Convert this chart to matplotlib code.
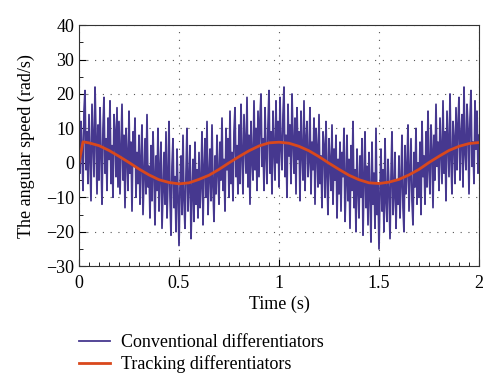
import numpy as np
import matplotlib
matplotlib.use("Agg")
import matplotlib.pyplot as plt
from matplotlib.ticker import MultipleLocator

# conventional differentiator output, sampled every 0.005 s from 0 to 2 s
conv_speed = [
    18, -3, 12, 4, -8, 15, 21, -2, 9, -6, 14, 2, -11, 17, 6, -4, 22, 8, -9, 11,
    -5, 16, 3, -12, 10, 19, -3, 7, -8, 13, 1, 18, -6, 5, -10, 14, 9, -4, 16, -7,
    12, -9, 4, 17, -5, 8, -13, 10, 2, -8, 15, -3, 6, -14, 9, -1, 13, -10, 3, -6,
    8, -12, 1, 11, -15, -4, 7, -9, 14, -7, -1, -16, 5, -11, 9, -3, -18, 2, -8, 10,
    -14, -2, 6, -19, -8, 3, -12, 9, -16, -5, 12, -10, -21, -1, 7, -13, -4, -20, 4, -9,
    -24, -7, 2, -15, 8, -11, -19, -3, 10, -14, -6, 5, -22, -9, 1, -17, 6, -12, -2, -16,
    3, -13, -6, 9, -18, -2, 7, -10, 12, -15, -4, 4, -11, 11, -7, -17, 2, -9, 8, -3,
    -12, 6, -5, 13, -8, 1, -14, 10, -2, 7, -10, 15, -6, 3, -11, 9, 16, -4, 5, -9,
    11, -6, 17, 2, -9, 14, 5, -3, 19, -7, 8, -12, 12, 1, -5, 18, -2, 10, -8, 15,
    -4, 13, 20, -1, 7, -8, 16, 3, -6, 11, 21, -3, 9, -9, 15, 4, -5, 18, 0, 12,
    -7, 19, 5, -2, 14, 22, -4, 8, -10, 17, 2, 11, -6, 20, 6, -3, 13, -9, 16, 1,
    9, -11, 15, 3, -5, 18, -8, 7, 12, -4, 1, 16, -9, 6, -2, 13, -12, 10, 4, -7,
    14, -6, 2, -13, 9, 5, -10, 12, -3, -15, 7, 0, -8, 11, -12, 4, -5, 8, -16, 1,
    -9, 6, -14, 3, -4, 10, -17, -6, 8, -11, 1, -19, 5, -8, 12, -13, -2, -20, 4, -7,
    -16, 2, -10, 7, -21, -5, 9, -13, -1, -18, 3, -9, -23, 6, -12, -3, -19, 10, -15, -6,
    -25, -8, 4, -14, -2, -20, 7, -11, -17, 1, -7, -22, -4, 9, -15, -9, 3, -19, -5, -12,
    2, -16, -6, 8, -13, -20, 5, -9, -2, 11, -14, -4, 7, -11, -18, 3, -7, 10, -12, 0,
    -10, 6, -15, 12, -4, 2, -12, 9, -7, 15, -2, -9, 11, 4, -13, 8, -5, 17, -1, 6,
    -8, 13, 3, -6, 18, -3, 9, -11, 15, 6, -4, 20, 1, -9, 12, 7, -6, 16, -2, 11,
    19, -5, 8, 14, -7, 22, 3, -2, 17, 10, -9, 13, 21, -1, 6, -6, 18, 4, 15, -3,
    8,
]
conv_time = np.linspace(0, 2, len(conv_speed))

# tracking differentiator output
track_time = [0, 0.02, 0.05, 0.1, 0.15, 0.2, 0.25, 0.3, 0.35, 0.4, 0.45, 0.5,
              0.55, 0.6, 0.65, 0.7, 0.75, 0.8, 0.85, 0.9, 0.95, 1.0,
              1.05, 1.1, 1.15, 1.2, 1.25, 1.3, 1.35, 1.4, 1.45, 1.5,
              1.55, 1.6, 1.65, 1.7, 1.75, 1.8, 1.85, 1.9, 1.95, 2.0]
track_speed = [0, 6.1, 5.8, 5.0, 3.6, 1.9, 0.1, -1.8, -3.5, -4.9, -5.7, -6.1,
               -5.8, -4.8, -3.6, -1.9, 0.0, 1.8, 3.5, 4.9, 5.8, 6.0,
               5.7, 4.8, 3.5, 1.8, -0.1, -1.9, -3.6, -4.9, -5.8, -6.0,
               -5.6, -4.8, -3.5, -1.9, 0.1, 1.9, 3.6, 4.8, 5.6, 5.9]

plt.rcParams['font.family'] = ['Liberation Serif', 'DejaVu Serif']
plt.rcParams['font.size'] = 13

fig = plt.figure(figsize=(5, 3.92), dpi=100)
ax = fig.add_axes([0.158, 0.321, 0.8, 0.615])

ax.plot(conv_time, conv_speed, color='#46388f', lw=1.3, label='Conventional differentiators')
ax.plot(track_time, track_speed, color='#d9481c', lw=2.0, label='Tracking differentiators')

ax.set_xlim(0, 2)
ax.set_ylim(-30, 40)
ax.xaxis.set_minor_locator(MultipleLocator(0.05))
ax.yaxis.set_major_locator(MultipleLocator(10))
ax.yaxis.set_minor_locator(MultipleLocator(5))
ax.set_xticks([0, 0.5, 1, 1.5, 2])
ax.set_xticklabels(['0', '0.5', '1', '1.5', '2'])
ax.tick_params(which='both', direction='in', top=False, right=False, labelsize=13)
ax.tick_params(which='major', length=5)
ax.tick_params(which='minor', length=3)
ax.tick_params(axis='x', pad=6)
ax.grid(True, which='major', color='#555555', linestyle=(0, (1, 6)), lw=0.8)
for s in ax.spines.values():
    s.set_color('#333333')

ax.set_xlabel('Time (s)', fontsize=13, labelpad=3)
ax.set_ylabel('The angular speed (rad/s)', fontsize=13, labelpad=8)

fig.legend(loc='upper left', bbox_to_anchor=(0.158, 0.148), frameon=False,
           borderaxespad=0, borderpad=0, handlelength=1.7, handletextpad=0.6,
           labelspacing=0.25, fontsize=13)

fig.savefig('out.png', dpi=100)
